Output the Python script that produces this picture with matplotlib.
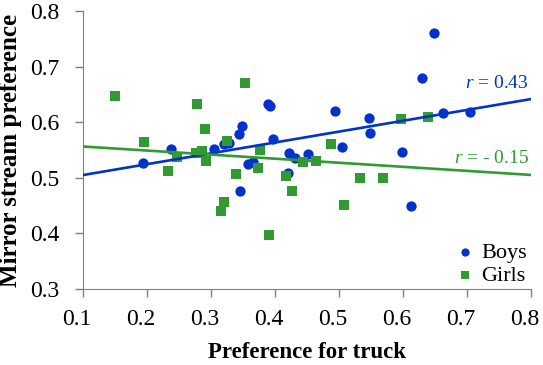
import numpy as np
import matplotlib.pyplot as plt
from matplotlib.transforms import ScaledTranslation

# values
boys_x = [0.194, 0.238, 0.305, 0.320, 0.328, 0.343, 0.349, 0.389, 0.392, 0.397,
          0.358, 0.365, 0.421, 0.431, 0.420, 0.345, 0.649, 0.629, 0.663, 0.705,
          0.493, 0.546, 0.548, 0.505, 0.599, 0.452, 0.613]
boys_y = [0.526, 0.551, 0.551, 0.560, 0.563, 0.579, 0.594, 0.633, 0.629, 0.569,
          0.524, 0.528, 0.545, 0.535, 0.509, 0.477, 0.760, 0.680, 0.617, 0.618,
          0.620, 0.608, 0.580, 0.556, 0.546, 0.543, 0.449]

girls_x = [0.150, 0.195, 0.278, 0.290, 0.325, 0.353, 0.276, 0.286, 0.292, 0.246,
           0.232, 0.377, 0.373, 0.339, 0.417, 0.444, 0.464, 0.315, 0.320, 0.390,
           0.426, 0.596, 0.639, 0.487, 0.533, 0.568, 0.507]
girls_y = [0.648, 0.565, 0.632, 0.588, 0.567, 0.671, 0.545, 0.548, 0.530, 0.537,
           0.513, 0.550, 0.517, 0.506, 0.503, 0.529, 0.530, 0.441, 0.457, 0.397,
           0.476, 0.606, 0.610, 0.561, 0.500, 0.500, 0.452]

r_labels = ["0.43", "- 0.15"]
x_ticks = [0.1, 0.2, 0.3, 0.4, 0.5, 0.6, 0.7, 0.8]
y_ticks = [0.3, 0.4, 0.5, 0.6, 0.7, 0.8]

BLUE = "#0033cc"
GREEN = "#339933"

plt.rcParams["font.family"] = ["Liberation Serif", "DejaVu Serif"]
plt.rcParams["mathtext.fontset"] = "custom"
plt.rcParams["mathtext.rm"] = "Liberation Serif"
plt.rcParams["mathtext.it"] = "Liberation Serif:italic"

fig = plt.figure(figsize=(5.43, 3.65), dpi=100)
ax = fig.add_axes([0.153, 0.208, 0.825, 0.762])

ax.scatter(boys_x, boys_y, s=55, marker="o", color=BLUE, linewidths=0,
           label="Boys", zorder=3)
ax.scatter(girls_x, girls_y, s=55, marker="s", color=GREEN, linewidths=0,
           label="Girls", zorder=3)

# least squares lines over the whole x range
xs = np.array([0.1, 0.8])
for xv, yv, col in [(boys_x, boys_y, BLUE), (girls_x, girls_y, GREEN)]:
    slope, icpt = np.polyfit(xv, yv, 1)
    ax.plot(xs, slope * xs + icpt, color=col, lw=1.9, zorder=4)

ax.text(0.797, 0.670, r"$r$ = " + r_labels[0], color=BLUE, fontsize=14,
        ha="right", va="center")
ax.text(0.797, 0.535, r"$r$ = " + r_labels[1], color=GREEN, fontsize=14,
        ha="right", va="center")

ax.set_xlim(0.1, 0.8)
ax.set_ylim(0.3, 0.8)
ax.set_xticks(x_ticks)
ax.set_yticks(y_ticks)
ax.set_xticklabels([f"{t:.1f}" for t in x_ticks])
ax.set_yticklabels([f"{t:.1f}" for t in y_ticks])
ax.tick_params(labelsize=17, color="#808080", length=6, width=1)
ax.tick_params(axis="x", pad=8)
ax.tick_params(axis="y", pad=11)
# x tick labels sit a little left of their ticks in the original
shift = ScaledTranslation(-0.06, 0, fig.dpi_scale_trans)
for lab in ax.get_xticklabels():
    lab.set_transform(lab.get_transform() + shift)
for side in ["top", "right"]:
    ax.spines[side].set_visible(False)
for side in ["left", "bottom"]:
    ax.spines[side].set_color("#808080")

ax.set_xlabel("Preference for truck", fontsize=16.5, fontweight="bold")
ax.set_ylabel("Mirror stream preference", fontsize=18, fontweight="bold")
ax.xaxis.set_label_coords(0.5, -0.19)
ax.yaxis.set_label_coords(-0.136, 0.5)

ax.legend(loc="lower right", frameon=False, fontsize=16, handletextpad=0.3,
          handlelength=0.8, borderaxespad=0.0, labelspacing=0.1,
          markerscale=0.8, bbox_to_anchor=(1.01, -0.02))

plt.savefig("out.png", dpi=100)
